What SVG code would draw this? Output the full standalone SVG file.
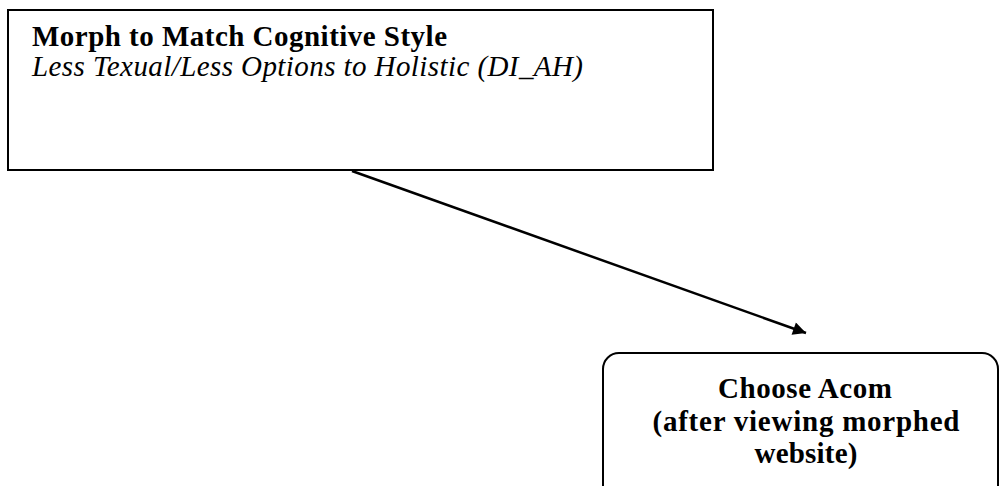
<svg xmlns="http://www.w3.org/2000/svg" width="1000" height="486" viewBox="0 0 1000 486">
  <defs>
    <marker id="arrow" viewBox="0 0 10 10" refX="10" refY="5" markerWidth="18" markerHeight="13" markerUnits="userSpaceOnUse" orient="auto">
      <path d="M0,0 L10,5 L0,10 Z" fill="#000"/>
    </marker>
    <style>
      .box { fill: #fff; stroke: #000; stroke-width: 2; }
      .edge { stroke: #000; stroke-width: 2.5; fill: none; }
      .t { font-family: "Liberation Serif", "Times New Roman", serif; fill: #000; font-size: 29px; }
      .b { font-weight: bold; }
      .i { font-style: italic; }
      .c { text-anchor: middle; }
    </style>
  </defs>
  <rect width="1000" height="486" fill="#fff"/>

  <g id="node-morph">
    <rect class="box" x="8" y="10" width="705" height="160"/>
    <text class="t b" x="32" y="46" textLength="415">Morph to Match Cognitive Style</text>
    <text class="t i" x="32" y="76" textLength="551">Less Texual/Less Options to Holistic (DI_AH)</text>
  </g>

  <g id="node-choose">
    <rect class="box" x="603" y="353" width="395" height="150" rx="16" ry="16"/>
    <text class="t b c" x="805" y="398" textLength="174">Choose Acom</text>
    <text class="t b c" x="806" y="431" textLength="307">(after viewing morphed</text>
    <text class="t b c" x="806" y="463" textLength="103">website)</text>
  </g>

  <g id="connectors">
    <line class="edge" x1="352" y1="171" x2="806" y2="333" marker-end="url(#arrow)"/>
  </g>
</svg>
